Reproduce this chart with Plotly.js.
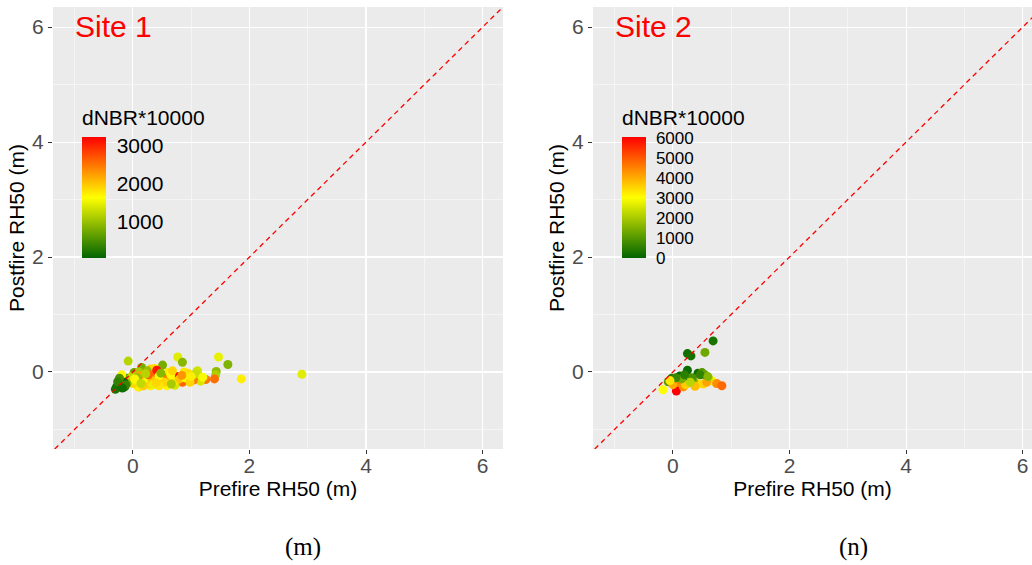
<!DOCTYPE html>
<html>
<head>
<meta charset="utf-8">
<script src="https://cdn.plot.ly/plotly-3.0.1.min.js"></script>
<style>html,body{margin:0;padding:0;background:#fff;}#chart{width:1032px;height:565px;}</style>
</head>
<body>
<div id="chart"></div>
<script>
// ---- Site 1 data ----
const site1Pre = [-0.08,0.77,0.85,1.47,1.63,0.51,1.86,2.90,1.43,1.42,1.40,1.25,1.16,1.04,1.10,0.94,0.85,0.77,0.75,0.60,0.62,0.70,0.50,0.41,0.37,0.30,0.50,0.30,0.20,0.11,0.15,0.19,0.02,-0.06,-0.20,-0.25,-0.22,-0.17,-0.28,-0.14,-0.11,-0.19,0.06,0.29,0.43,0.61,0.54,0.38,0.41,0.09,-0.05,-0.02,0.72,0.58,0.23,0.88,0.95,1.11,1.08,0.71,0.00,0.05,0.15,0.25,0.33,0.45,0.55,0.65,0.80,0.90,0.98,-0.10,0.10,0.25,0.35,0.45,0.12,-0.15,0.68,0.27,1.00,0.18,-0.23,-0.30,-0.26,-0.12,0.08,0.22,0.40,0.66,0.84,1.20,0.03,-0.18,0.14,0.48];
const site1Post = [0.19,0.26,0.17,0.26,0.13,0.12,-0.12,-0.04,0.01,-0.05,-0.12,-0.13,-0.16,-0.14,0.01,-0.02,-0.18,-0.08,-0.11,-0.01,-0.12,-0.20,-0.10,-0.03,0.06,0.05,-0.20,-0.24,-0.18,-0.26,0.08,-0.01,-0.01,-0.10,-0.08,-0.23,-0.20,-0.14,-0.26,-0.26,-0.11,-0.05,-0.05,-0.20,-0.17,-0.08,-0.11,-0.04,0.03,-0.26,-0.17,-0.08,-0.23,-0.24,-0.20,0.00,-0.03,0.02,-0.03,-0.16,-0.20,-0.15,-0.12,-0.10,-0.15,-0.07,-0.18,-0.05,-0.12,-0.10,-0.18,-0.20,0.00,0.02,-0.22,-0.24,-0.06,-0.18,0.02,-0.05,-0.08,-0.24,-0.11,-0.30,-0.17,-0.22,-0.10,-0.03,-0.19,-0.21,-0.06,-0.09,-0.12,-0.28,-0.20,-0.02];
const site1DNBR = [1200,1450,900,1500,850,800,1750,1450,950,1150,2550,2500,1400,2450,1300,1800,2600,3150,3240,1750,1800,1700,2400,2500,1850,1900,1350,1750,2350,1800,800,850,700,1750,1000,150,200,300,100,250,600,1700,900,1300,1800,1800,2500,2550,3100,1750,1800,1250,1400,1700,1850,1800,1850,1350,1300,1800,1900,1500,1700,1600,2000,1650,1900,1650,2000,1600,1900,900,1100,1000,1500,1800,2200,50,1900,2600,1750,1950,500,200,350,400,1000,1200,1900,1100,2300,1600,1700,150,1250,900];

// ---- Site 2 data ----
const site2Pre = [0.69,0.25,0.31,0.55,0.25,0.43,0.50,0.55,0.47,0.12,-0.02,-0.08,0.09,0.09,0.26,0.41,0.52,0.68,0.75,0.84,-0.17,0.06,0.18,0.22,0.35,0.62,0.00,0.15,0.33,0.05,0.38,-0.05,0.58,0.30,0.20,0.60];
const site2Post = [0.54,0.32,0.28,0.34,0.03,-0.02,-0.01,-0.05,-0.05,-0.07,-0.11,-0.17,-0.14,-0.20,-0.19,-0.20,-0.21,-0.16,-0.20,-0.24,-0.31,-0.33,-0.26,-0.22,-0.15,-0.12,-0.22,-0.12,-0.10,-0.10,-0.25,-0.15,-0.18,-0.18,-0.05,-0.08];
const site2DNBR = [300,200,250,1300,150,200,1000,1200,600,100,400,1100,2600,4500,100,3400,3500,3100,4400,4800,3000,6050,4300,3600,1500,2500,4000,1400,900,700,3800,3300,4100,2200,500,1600];

// ---- 1:1 reference line ----
const diagLine = [-2, 7];

// ---- colour bar ticks ----
const site1Ticks = [1000, 2000, 3000];
const site2Ticks = [0, 1000, 2000, 3000, 4000, 5000, 6000];

const W = 1032, H = 565;
const px = v => v / W;
const py = v => 1 - v / H;

const cscale = [[0, '#006400'], [0.5, '#FFFF00'], [1, '#FF0000']];
const FONT = 'Liberation Sans, Arial, sans-serif';

function cbar(xLeft, ticks, fsize) {
  return {
    x: px(xLeft), xanchor: 'left', xpad: 0,
    y: py(137), yanchor: 'top', ypad: 0,
    thickness: 24, thicknessmode: 'pixels',
    len: 121, lenmode: 'pixels',
    outlinewidth: 0,
    tickvals: ticks, ticktext: ticks.map(String),
    ticks: 'outside', ticklen: 7, tickcolor: 'rgba(0,0,0,0)', tickwidth: 1,
    tickfont: {family: FONT, size: fsize, color: '#000000'},
    bgcolor: 'rgba(0,0,0,0)'
  };
}

const traces = [
  {
    type: 'scatter', mode: 'markers', x: site1Pre, y: site1Post,
    xaxis: 'x', yaxis: 'y',
    marker: {size: 9, color: site1DNBR, colorscale: cscale, cmin: 50, cmax: 3240,
             showscale: true, colorbar: cbar(82, site1Ticks, 21), line: {width: 0}},
    hoverinfo: 'skip', showlegend: false
  },
  {
    type: 'scatter', mode: 'lines', x: diagLine, y: diagLine,
    xaxis: 'x', yaxis: 'y',
    line: {color: '#FF0000', width: 1.3, dash: '5px,4px'},
    hoverinfo: 'skip', showlegend: false
  },
  {
    type: 'scatter', mode: 'markers', x: site2Pre, y: site2Post,
    xaxis: 'x2', yaxis: 'y2',
    marker: {size: 9, color: site2DNBR, colorscale: cscale, cmin: 0, cmax: 6050,
             showscale: true, colorbar: cbar(622, site2Ticks, 17), line: {width: 0}},
    hoverinfo: 'skip', showlegend: false
  },
  {
    type: 'scatter', mode: 'lines', x: diagLine, y: diagLine,
    xaxis: 'x2', yaxis: 'y2',
    line: {color: '#FF0000', width: 1.3, dash: '5px,4px'},
    hoverinfo: 'skip', showlegend: false
  }
];

function xax(domain, range, anchor) {
  return {
    domain: domain, range: range, anchor: anchor,
    tick0: 0, dtick: 2, ticks: 'outside', ticklen: 4, tickcolor: '#333333', tickwidth: 1,
    tickfont: {family: FONT, size: 21, color: '#4D4D4D'},
    ticklabelstandoff: -6,
    showgrid: true, gridcolor: '#FFFFFF', gridwidth: 1.1,
    minor: {tick0: 0, dtick: 1, showgrid: true, gridcolor: '#FFFFFF', gridwidth: 0.5},
    zeroline: false, showline: false,
    title: {text: 'Prefire RH50 (m)', font: {family: FONT, size: 21, color: '#000000'}, standoff: 5}
  };
}
function yax(range, anchor) {
  return {
    domain: [py(449), py(7)], range: range, anchor: anchor,
    tick0: 0, dtick: 2, ticks: 'outside', ticklen: 4, tickcolor: '#333333', tickwidth: 1,
    tickfont: {family: FONT, size: 21, color: '#4D4D4D'},
    showgrid: true, gridcolor: '#FFFFFF', gridwidth: 1.1,
    minor: {tick0: 0, dtick: 1, showgrid: true, gridcolor: '#FFFFFF', gridwidth: 0.5},
    zeroline: false, showline: false,
    title: {text: 'Postfire RH50 (m)', font: {family: FONT, size: 21, color: '#000000'}, standoff: 1}
  };
}

const layout = {
  width: W, height: H,
  margin: {l: 0, r: 0, t: 0, b: 0, pad: 0},
  paper_bgcolor: '#FFFFFF', plot_bgcolor: '#EBEBEB',
  font: {family: FONT},
  showlegend: false,
  xaxis: xax([px(53), px(503)], [-1.37, 6.35], 'y'),
  yaxis: yax([-1.34, 6.35], 'x'),
  xaxis2: xax([px(593), 1], [-1.37, 6.16], 'y2'),
  yaxis2: yax([-1.34, 6.35], 'x2'),
  annotations: [
    {text: 'Site 1', xref: 'paper', yref: 'paper', x: px(73), y: py(27), xanchor: 'left', yanchor: 'middle',
     showarrow: false, font: {family: FONT, size: 30, color: '#FF0000'}},
    {text: 'Site 2', xref: 'paper', yref: 'paper', x: px(613), y: py(27), xanchor: 'left', yanchor: 'middle',
     showarrow: false, font: {family: FONT, size: 30, color: '#FF0000'}},
    {text: 'dNBR*10000', xref: 'paper', yref: 'paper', x: px(80), y: py(118), xanchor: 'left', yanchor: 'middle',
     showarrow: false, font: {family: FONT, size: 21, color: '#000000'}},
    {text: 'dNBR*10000', xref: 'paper', yref: 'paper', x: px(620), y: py(118), xanchor: 'left', yanchor: 'middle',
     showarrow: false, font: {family: FONT, size: 21, color: '#000000'}},
    {text: '(m)', xref: 'paper', yref: 'paper', x: px(303), y: py(547), xanchor: 'center', yanchor: 'middle',
     showarrow: false, font: {family: 'Liberation Serif, Times New Roman, serif', size: 25, color: '#000000'}},
    {text: '(n)', xref: 'paper', yref: 'paper', x: px(853), y: py(547), xanchor: 'center', yanchor: 'middle',
     showarrow: false, font: {family: 'Liberation Serif, Times New Roman, serif', size: 25, color: '#000000'}}
  ]
};

Plotly.newPlot('chart', traces, layout, {displayModeBar: false, staticPlot: true});
</script>
</body>
</html>
